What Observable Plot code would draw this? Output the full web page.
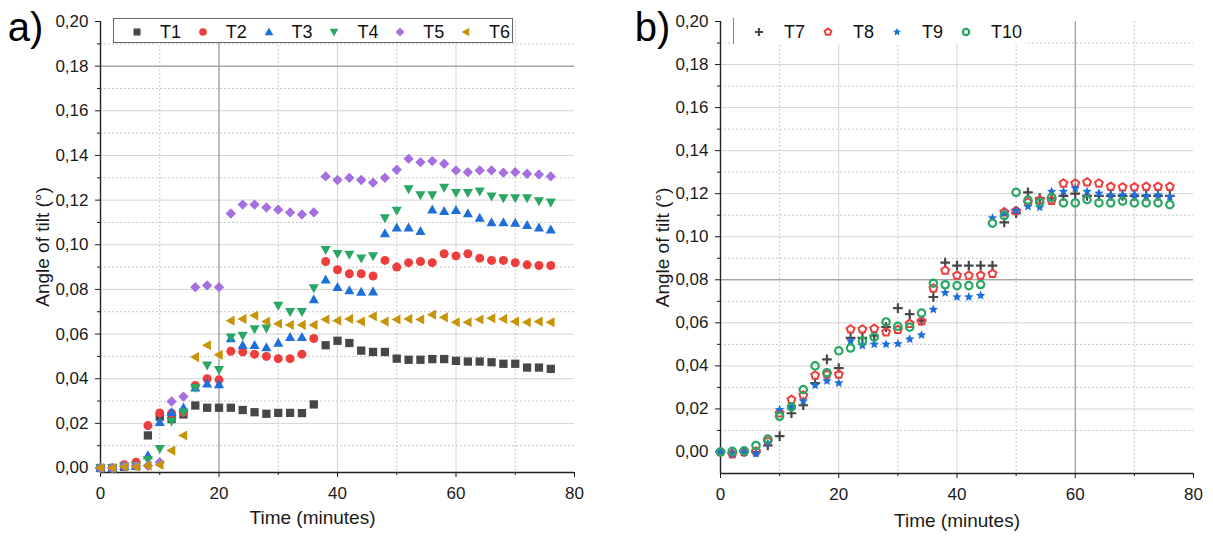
<!DOCTYPE html>
<html>
<head>
<meta charset="utf-8">
<script src="https://cdn.jsdelivr.net/npm/d3@7"></script>
<script src="https://cdn.jsdelivr.net/npm/@observablehq/plot@0.6"></script>
<style>
  body { margin: 0; background: #fff; }
  #wrap { position: relative; width: 1213px; height: 537px; overflow: hidden; font-family: "Liberation Sans", Arial, sans-serif; background: #fff; }
  .panel { position: absolute; top: 0; }
  .legend { position: absolute; background: #fff; box-sizing: border-box; }
  .legend svg { position: absolute; overflow: visible; }
  .legend span { position: absolute; font-size: 18px; line-height: 18px; color: #111; white-space: nowrap; }
</style>
</head>
<body>
<div id="wrap"></div>
<script>
// ---------- data ----------
const time = [0,2,4,6,8,10,12,14,16,18,20,22,24,26,28,30,32,34,36,38,40,42,44,46,48,50,52,54,56,58,60,62,64,66,68,70,72,74,76];

const T1 = [0,0,0.0005,0.001,0.0146,0.023,0.022,0.024,0.028,0.027,0.027,0.027,0.026,0.025,0.0243,0.0247,0.0247,0.0246,0.0285,0.055,0.057,0.056,0.0526,0.052,0.052,0.049,0.0485,0.0485,0.0488,0.0488,0.048,0.0477,0.0477,0.0474,0.0467,0.0467,0.045,0.045,0.0444];
const T2 = [0,0,0.0015,0.0026,0.019,0.0247,0.0245,0.025,0.037,0.040,0.0395,0.0523,0.052,0.051,0.050,0.049,0.049,0.051,0.058,0.0925,0.0888,0.087,0.087,0.086,0.093,0.090,0.092,0.0925,0.092,0.096,0.095,0.096,0.094,0.093,0.093,0.092,0.091,0.0907,0.0907];
const T3 = [0,0,0.0008,0.001,0.0056,0.0205,0.025,0.027,0.036,0.0377,0.0374,0.058,0.055,0.055,0.054,0.056,0.0586,0.0586,0.0755,0.0843,0.081,0.0795,0.0788,0.079,0.105,0.1076,0.1076,0.106,0.1157,0.115,0.1154,0.114,0.112,0.110,0.110,0.1097,0.1087,0.1076,0.1067];
const T4 = [0,0,0.0008,0.001,0.0037,0.0086,0.021,0.025,0.036,0.046,0.044,0.0586,0.0594,0.0623,0.0626,0.0728,0.070,0.070,0.0806,0.0978,0.096,0.0957,0.094,0.095,0.112,0.1154,0.125,0.1223,0.1223,0.1257,0.1233,0.1233,0.124,0.1217,0.121,0.121,0.121,0.1196,0.119];
const T5 = [0,0,0.0008,0.001,0.001,0.0026,0.0298,0.032,0.081,0.0818,0.081,0.114,0.118,0.118,0.1167,0.1157,0.1145,0.1136,0.1145,0.1306,0.129,0.130,0.129,0.1278,0.130,0.1336,0.1385,0.137,0.1375,0.1363,0.1333,0.1325,0.1333,0.1333,0.1323,0.1325,0.1318,0.1315,0.1306];
const T6 = [0,0,0.0006,0.0006,0.001,0.0014,0.0078,0.0146,0.0497,0.055,0.0507,0.066,0.0668,0.0683,0.0656,0.0646,0.0641,0.0641,0.0641,0.0665,0.066,0.0668,0.0656,0.068,0.0656,0.0665,0.0668,0.0665,0.0687,0.0675,0.0653,0.0653,0.0665,0.0671,0.0668,0.0656,0.0653,0.0656,0.0653];

const T7 = [0,-0.0005,0,0,0.003,0.0074,0.018,0.0217,0.032,0.043,0.039,0.053,0.053,0.054,0.058,0.0668,0.064,0.061,0.072,0.088,0.0866,0.0866,0.0866,0.0866,0.1067,0.111,0.1206,0.118,0.118,0.119,0.120,0.119,0.119,0.119,0.119,0.119,0.119,0.119,0.119];
const T8 = [0,-0.001,0,0.0003,0.005,0.018,0.0243,0.0263,0.0356,0.036,0.036,0.057,0.057,0.0573,0.0557,0.0568,0.0596,0.0608,0.076,0.0843,0.082,0.082,0.082,0.0828,0.1114,0.112,0.116,0.117,0.1168,0.1248,0.1248,0.1253,0.1248,0.1233,0.123,0.123,0.1233,0.1233,0.1233];
const T9 = [0,-0.0008,0,-0.0008,0.004,0.0196,0.021,0.0237,0.031,0.033,0.032,0.0515,0.0495,0.050,0.050,0.0503,0.0524,0.0543,0.0662,0.074,0.072,0.072,0.0727,0.1087,0.111,0.1121,0.114,0.1137,0.121,0.121,0.1225,0.121,0.1202,0.1194,0.1194,0.1194,0.119,0.1194,0.1186];
const T10 = [0,0.0003,0.0005,0.003,0.006,0.0166,0.021,0.029,0.040,0.0368,0.047,0.0483,0.0515,0.0534,0.0604,0.0584,0.058,0.0645,0.0784,0.0777,0.0773,0.0773,0.0778,0.1063,0.1098,0.1206,0.117,0.116,0.1183,0.1157,0.1157,0.1172,0.1157,0.1157,0.1165,0.1157,0.1157,0.1157,0.1149];

const xMajor = [0,20,40,60,80];
const xMinor = [10,30,50,70];
const xGridMajor = [20,40,60];
const yMajor = [0,0.02,0.04,0.06,0.08,0.10,0.12,0.14,0.16,0.18,0.20];
const yMinor = [0.01,0.03,0.05,0.07,0.09,0.11,0.13,0.15,0.17,0.19];
const yGridMajor = [0.02,0.04,0.06,0.08,0.10,0.12,0.14,0.16,0.18];
const yLabel = "Angle of tilt (°)";
const xLabel = "Time (minutes)";

// ---------- symbols ----------
function sym(fn) { return { draw(c, s) { fn(c, Math.sqrt(s / Math.PI)); } }; }
function poly(c, pts) { c.moveTo(pts[0][0], pts[0][1]); for (let i = 1; i < pts.length; i++) c.lineTo(pts[i][0], pts[i][1]); c.closePath(); }
const SYM = {
  square: sym((c, r) => { const h = 0.9 * r; poly(c, [[-h,-h],[h,-h],[h,h],[-h,h]]); }),
  circle: sym((c, r) => { c.moveTo(r, 0); c.arc(0, 0, r, 0, 2 * Math.PI); }),
  triUp: sym((c, r) => poly(c, [[0,-1.2*r],[1.15*r,0.85*r],[-1.15*r,0.85*r]])),
  triDown: sym((c, r) => poly(c, [[0,1.2*r],[1.15*r,-0.85*r],[-1.15*r,-0.85*r]])),
  triLeft: sym((c, r) => poly(c, [[-1.2*r,0],[0.85*r,-1.15*r],[0.85*r,1.15*r]])),
  diamond: sym((c, r) => poly(c, [[0,-1.2*r],[1.2*r,0],[0,1.2*r],[-1.2*r,0]])),
  pentagon: sym((c, r) => poly(c, d3.range(5).map(i => { const a = -Math.PI/2 + i*2*Math.PI/5; return [r*Math.cos(a), r*Math.sin(a)]; }))),
  star: sym((c, r) => poly(c, d3.range(10).map(i => { const a = -Math.PI/2 + i*Math.PI/5; const rr = i % 2 ? 0.55*r : 1.2*r; return [rr*Math.cos(a), rr*Math.sin(a)]; }))),
  plus: sym((c, r) => { const h = 1.15 * r; c.moveTo(-h, 0); c.lineTo(h, 0); c.moveTo(0, -h); c.lineTo(0, h); })
};

const seriesA = [
  { name: "T1", values: T1, color: "#474747", symbol: "square", filled: true, r: 4.6 },
  { name: "T2", values: T2, color: "#ee3d3d", symbol: "circle", filled: true, r: 4.5 },
  { name: "T3", values: T3, color: "#1e6fd9", symbol: "triUp", filled: true, r: 4.4 },
  { name: "T4", values: T4, color: "#2aa765", symbol: "triDown", filled: true, r: 4.4 },
  { name: "T5", values: T5, color: "#a46fdf", symbol: "diamond", filled: true, r: 4.3 },
  { name: "T6", values: T6, color: "#c99508", symbol: "triLeft", filled: true, r: 4.4 }
];
const seriesB = [
  { name: "T7", values: T7, color: "#474747", symbol: "plus", filled: false, r: 4.2, sw: 2.2 },
  { name: "T8", values: T8, color: "#ee3d3d", symbol: "pentagon", filled: false, r: 4.1, sw: 2 },
  { name: "T9", values: T9, color: "#1e6fd9", symbol: "star", filled: true, r: 4.1 },
  { name: "T10", values: T10, color: "#2aa765", symbol: "circle", filled: false, r: 3.7, sw: 2.2 }
];

const fmt = d => d3.format(".2f")(d).replace(".", ",");

function makePanel(cfg) {
  const dots = cfg.series.map(s => Plot.dot(time.map((t, i) => ({ t, v: s.values[i] })), {
    x: "t", y: "v", r: s.r, symbol: SYM[s.symbol],
    fill: s.filled ? s.color : "none",
    stroke: s.filled ? "none" : s.color,
    strokeWidth: s.sw || 1
  }));
  return Plot.plot({
    width: cfg.width, height: 537,
    marginLeft: 100, marginRight: cfg.marginRight, marginTop: 21, marginBottom: cfg.marginBottom,
    x: { domain: [0, 80] },
    y: { domain: cfg.yDomain },
    style: { fontFamily: '"Liberation Sans", Arial, sans-serif', fontSize: "17px", color: "#1a1a1a", background: "transparent", overflow: "visible" },
    marks: [
      Plot.gridY(yMinor, { stroke: "#c9c9c9", strokeOpacity: 1, strokeDasharray: "2,2" }),
      Plot.gridX(xMinor, { stroke: "#c9c9c9", strokeOpacity: 1, strokeDasharray: "2,2" }),
      Plot.gridY(yGridMajor, { stroke: "#d4d4d4", strokeOpacity: 1 }),
      Plot.gridX(xGridMajor, { stroke: "#d4d4d4", strokeOpacity: 1 }),
      Plot.ruleX(cfg.darkX, { stroke: "#8f8f8f" }),
      Plot.ruleY(cfg.darkY, { stroke: "#8f8f8f" }),
      Plot.axisY(yMajor, { tickSize: 5, tickPadding: 7, tickFormat: fmt, fontSize: 17, label: null }),
      Plot.axisY(yMinor, { tickSize: 3, tickFormat: () => "", label: null }),
      Plot.axisX(xMajor, { tickSize: 5, tickPadding: 9, fontSize: 17, label: null }),
      Plot.axisX(xMinor, { tickSize: 3, tickFormat: () => "", label: null }),
      Plot.ruleX([0], { stroke: "#222", strokeWidth: 1.4 }),
      Plot.ruleY([cfg.yDomain[0]], { stroke: "#222", strokeWidth: 1.4 }),
      ...dots,
      Plot.text([yLabel], { frameAnchor: "left", textAnchor: "middle", lineAnchor: "middle", rotate: -90, dx: -58, fontSize: 19, fill: "#1a1a1a" }),
      Plot.text([xLabel], { frameAnchor: "bottom", textAnchor: "middle", lineAnchor: "middle", dx: cfg.xLabelDx, dy: cfg.xLabelDy, fontSize: 19, fill: "#1a1a1a" }),
      Plot.text([cfg.letter], { frameAnchor: "top-left", textAnchor: "middle", lineAnchor: "middle", dx: cfg.letterDx, dy: 7, fontSize: 40, fill: "#000" })
    ]
  });
}

const wrap = document.getElementById("wrap");

function place(node, left) {
  const d = document.createElement("div");
  d.className = "panel";
  d.style.left = left + "px";
  d.appendChild(node);
  wrap.appendChild(d);
}

place(makePanel({ width: 600, marginRight: 26, marginBottom: 65, yDomain: [-0.002, 0.2], series: seriesA,
  darkX: [20], darkY: [0.18], letter: "a)", letterDx: -75, xLabelDx: -25, xLabelDy: 45 }), 0);
place(makePanel({ width: 593, marginRight: 20, marginBottom: 64, yDomain: [-0.01, 0.2], series: seriesB,
  darkX: [60], darkY: [0.08], letter: "b)", letterDx: -68, xLabelDx: 0, xLabelDy: 47 }), 620);

// ---------- legends ----------
function symbolPath(name, r) { const p = d3.path(); SYM[name].draw(p, r * r * Math.PI); return p.toString(); }

function legend(box, series, items) {
  const d = document.createElement("div");
  d.className = "legend";
  Object.assign(d.style, box.style);
  series.forEach((s, i) => {
    const it = items[i];
    const svg = d3.create("svg").attr("width", 1).attr("height", 1)
      .style("left", (it.sx - box.left) + "px").style("top", (box.cy - box.top) + "px");
    svg.append("path").attr("d", symbolPath(s.symbol, s.r * 0.85))
      .attr("fill", s.filled ? s.color : "none")
      .attr("stroke", s.filled ? "none" : s.color)
      .attr("stroke-width", s.sw || 1);
    d.appendChild(svg.node());
    const sp = document.createElement("span");
    sp.textContent = s.name;
    sp.style.left = (it.tx - box.left) + "px";
    sp.style.top = (box.cy - box.top - 9) + "px";
    d.appendChild(sp);
  });
  wrap.appendChild(d);
}

legend({ left: 113, top: 18, cy: 31,
  style: { left: "113px", top: "18px", width: "400px", height: "25px", border: "1px solid #666" } },
  seriesA,
  seriesA.map((s, i) => ({ sx: 136 + i * 65.8, tx: 159 + i * 65.8 })));

legend({ left: 733, top: 18, cy: 32,
  style: { left: "733px", top: "18px", width: "292px", height: "26px", borderLeft: "1px solid #888" } },
  seriesB,
  seriesB.map((s, i) => ({ sx: 758 + i * 69, tx: 783 + i * 69 })));
</script>
</body>
</html>
